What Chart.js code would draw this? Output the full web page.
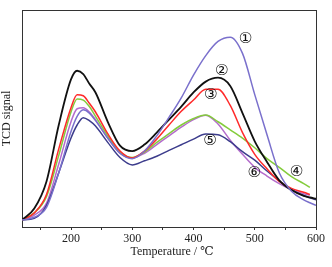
<!DOCTYPE html>
<html>
<head>
<meta charset="utf-8">
<script src="https://cdn.jsdelivr.net/npm/chart.js@4"></script>
<style>
  html, body { margin: 0; padding: 0; background: #fff; }
  #wrap { width: 332px; height: 267px; }
</style>
</head>
<body>
<div id="wrap"><canvas id="chartCanvas" width="332" height="267"></canvas></div>
<script>
// temperatures (°C) shared by all curves
const temps = [120, 140, 160, 180, 200, 210, 220, 230, 240, 260, 280, 300, 320, 340, 360, 380, 400, 420, 440, 460, 480, 500, 520, 540, 560, 580, 590, 600];

// TCD signal, arbitrary units (0 = axis, 100 = top of frame)
const curve1 = [3.2, 4.5, 9, 25, 44, 51, 54, 52.5, 49, 41, 34, 31.5, 35, 42, 50.5, 59.5, 70, 79, 85.5, 87.5, 80, 61, 42.5, 25, 16.5, 12.5, 11.2, 10];
const curve2 = [3.2, 8.5, 21, 47, 68, 72, 70.5, 66, 62, 48.5, 37.5, 35, 38, 43.5, 49.5, 55.5, 62, 67, 68.8, 65, 52.5, 39.5, 30, 21.5, 17, 14.3, 13.6, 13];
const curve3 = [3.2, 6.5, 15, 36, 55, 61, 60.5, 57, 53, 43, 35, 31.8, 35, 40.5, 47, 53.3, 58.5, 63.5, 63.5, 56, 43.5, 33.5, 26.8, 21, 17.8, 16, 15, null];
const curve4 = [3.2, 6.5, 14, 33, 53, 59, 58.5, 55.5, 51, 42, 34.5, 32, 34.5, 39, 43, 47, 50, 51.6, 48.5, 44.8, 41, 36.5, 31.5, 27.5, 23.2, 20, 18.3, null];
const curve5 = [3.2, 4, 10, 25, 41, 47, 50.4, 49, 46.5, 39, 32, 28.6, 30.5, 32.6, 35.3, 37.9, 40.5, 42.8, 42.5, 39.3, 34.7, 30.8, 25.8, 21.3, 17.2, 14.5, 13.5, 12.5];
const curve6 = [3.2, 5.5, 11, 29, 48.5, 54.5, 55, 53, 49.5, 41, 34, 31.8, 34, 38, 42, 46, 49.5, 51.5, 47.5, 40, 33.5, 27.5, 23.5, 20, 17.2, 15.3, 14.7, null];

const curveNames = ['①', '②', '③', '④', '⑤', '⑥'];
const curveColors = ['#7a70cc', '#111111', '#ff2a2a', '#84cc3c', '#3c3c8c', '#b46ccc'];

// where the circled numbers sit (temperature, signal)
const labelTemps = [485, 446, 428, 568, 427, 499];
const labelValues = [86.6, 72, 61, 25.5, 39.8, 24.7];

const xMajorTicks = [200, 300, 400, 500, 600];
const xMinorTicks = [150, 250, 350, 450, 550];

const serif = '"Liberation Serif", "DejaVu Serif", serif';

const allCurves = [curve1, curve2, curve3, curve4, curve5, curve6];

const datasets = allCurves.map((vals, i) => ({
    label: curveNames[i],
    data: temps.map((t, k) => ({ x: t, y: vals[k] })),
    borderColor: curveColors[i],
    borderWidth: i === 1 ? 1.8 : 1.5,
    pointRadius: 0,
    fill: false,
    cubicInterpolationMode: 'monotone',
    spanGaps: false
}));

// frame round the plot area + the circled numbers
const framePlugin = {
    id: 'frame',
    beforeDatasetsDraw(chart) {
        const a = chart.chartArea;
        const ctx = chart.ctx;
        ctx.save();
        ctx.strokeStyle = '#333';
        ctx.lineWidth = 1;
        ctx.strokeRect(a.left + 0.5, a.top + 0.5, a.right - a.left, a.bottom - a.top);
        ctx.restore();
    },
    afterDatasetsDraw(chart) {
        const ctx = chart.ctx;
        const xs = chart.scales.x;
        const ys = chart.scales.y;
        ctx.save();
        ctx.fillStyle = '#111';
        ctx.font = '15px "DejaVu Sans", "Noto Sans CJK SC", sans-serif';
        ctx.textAlign = 'center';
        ctx.textBaseline = 'middle';
        curveNames.forEach((n, i) => {
            ctx.fillText(n, xs.getPixelForValue(labelTemps[i]), ys.getPixelForValue(labelValues[i]));
        });
        ctx.restore();
    }
};

new Chart(document.getElementById('chartCanvas').getContext('2d'), {
    type: 'line',
    data: { datasets: datasets },
    options: {
        responsive: false,
        animation: false,
        layout: { padding: { top: 10, right: 16, left: 0, bottom: 0 } },
        plugins: { legend: { display: false }, tooltip: { enabled: false } },
        scales: {
            x: {
                type: 'linear',
                min: 120,
                max: 600,
                afterBuildTicks(scale) {
                    scale.ticks = xMinorTicks.concat(xMajorTicks).sort((a, b) => a - b).map(v => ({ value: v }));
                },
                afterFit(scale) { scale.height = 40; },
                ticks: {
                    autoSkip: false,
                    maxRotation: 0,
                    padding: 2,
                    color: '#222',
                    font: { family: serif, size: 12 },
                    callback: v => (xMajorTicks.includes(v) ? String(v) : '')
                },
                grid: { drawOnChartArea: false, tickLength: 3, color: '#333' },
                border: { color: '#333' },
                title: {
                    display: true,
                    text: '  Temperature / ℃',
                    color: '#222',
                    font: { family: serif, size: 12 },
                    padding: { top: 0, bottom: 8 }
                }
            },
            y: {
                min: 0,
                max: 100,
                afterFit(scale) { scale.width = 22; },
                ticks: { display: false },
                grid: { display: false },
                border: { color: '#333' },
                title: {
                    display: true,
                    text: 'TCD signal',
                    color: '#222',
                    font: { family: serif, size: 12 },
                    padding: { top: 0, bottom: 0 }
                }
            }
        }
    },
    plugins: [framePlugin]
});
</script>
</body>
</html>
